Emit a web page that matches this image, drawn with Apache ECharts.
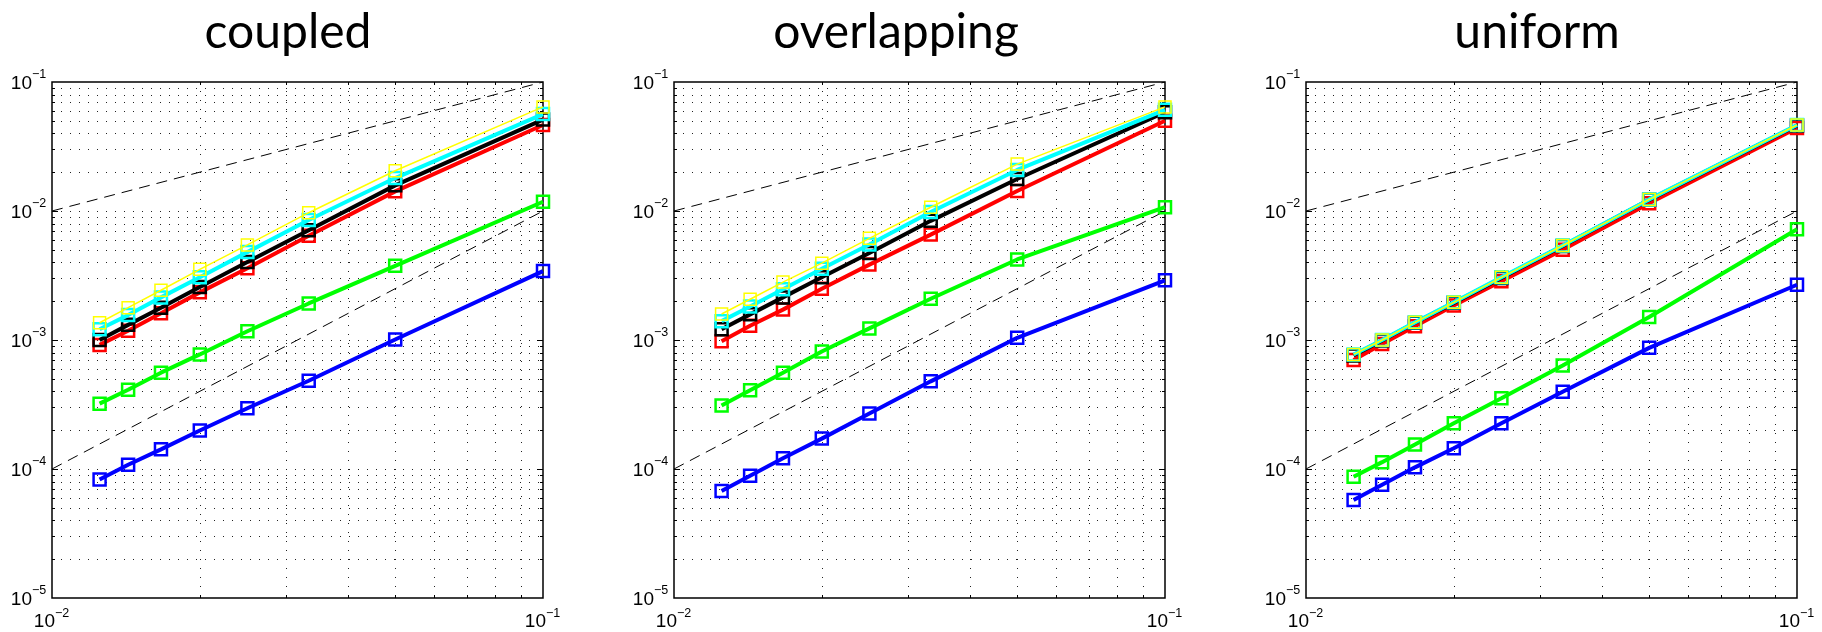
<!DOCTYPE html>
<html>
<head>
<meta charset="utf-8">
<script src="https://cdn.jsdelivr.net/npm/echarts@6/dist/echarts.min.js"></script>
<style>
html,body{margin:0;padding:0;background:#fff;}
#chart{width:1822px;height:632px;}
</style>
</head>
<body>
<div id="chart"></div>
<script>
// ---------------- data ----------------
const TITLES = ['coupled', 'overlapping', 'uniform'];
const H = [0.0125, 0.01429, 0.01667, 0.02, 0.025, 0.03333, 0.05, 0.1];

const coupledBlue   = [8.3e-5, 1.08e-4, 1.42e-4, 1.99e-4, 2.96e-4, 4.83e-4, 1.01e-3, 3.42e-3];
const coupledGreen  = [3.21e-4, 4.11e-4, 5.58e-4, 7.73e-4, 1.17e-3, 1.92e-3, 3.76e-3, 1.18e-2];
const coupledRed    = [9.16e-4, 1.18e-3, 1.61e-3, 2.34e-3, 3.60e-3, 6.43e-3, 1.42e-2, 4.64e-2];
const coupledBlack  = [1.0e-3, 1.31e-3, 1.78e-3, 2.58e-3, 4.02e-3, 7.10e-3, 1.58e-2, 5.11e-2];
const coupledCyan   = [1.21e-3, 1.56e-3, 2.14e-3, 3.06e-3, 4.80e-3, 8.51e-3, 1.80e-2, 5.64e-2];
const coupledYellow = [1.36e-3, 1.78e-3, 2.43e-3, 3.53e-3, 5.46e-3, 9.70e-3, 2.05e-2, 6.41e-2];

const overlapBlue   = [6.75e-5, 8.88e-5, 1.21e-4, 1.72e-4, 2.69e-4, 4.78e-4, 1.04e-3, 2.90e-3];
const overlapGreen  = [3.10e-4, 4.08e-4, 5.58e-4, 8.15e-4, 1.23e-3, 2.09e-3, 4.21e-3, 1.07e-2];
const overlapRed    = [9.77e-4, 1.29e-3, 1.72e-3, 2.50e-3, 3.84e-3, 6.56e-3, 1.43e-2, 5.01e-2];
const overlapBlack  = [1.21e-3, 1.58e-3, 2.14e-3, 3.06e-3, 4.73e-3, 8.39e-3, 1.77e-2, 5.83e-2];
const overlapCyan   = [1.40e-3, 1.82e-3, 2.47e-3, 3.57e-3, 5.50e-3, 9.82e-3, 2.08e-2, 6.09e-2];
const overlapYellow = [1.59e-3, 2.07e-3, 2.81e-3, 3.94e-3, 6.14e-3, 1.07e-2, 2.31e-2, 6.41e-2];

const uniformBlue   = [5.74e-5, 7.55e-5, 1.03e-4, 1.45e-4, 2.26e-4, 3.97e-4, 8.69e-4, 2.68e-3];
const uniformGreen  = [8.71e-5, 1.13e-4, 1.55e-4, 2.26e-4, 3.53e-4, 6.35e-4, 1.51e-3, 7.23e-3];
const uniformRed    = [7.0e-4, 9.3e-4, 1.28e-3, 1.85e-3, 2.85e-3, 5.0e-3, 1.15e-2, 4.4e-2];
const uniformBlack  = [7.6e-4, 9.9e-4, 1.36e-3, 1.94e-3, 3.02e-3, 5.35e-3, 1.22e-2, 4.6e-2];
const uniformCyan   = [7.73e-4, 1.0e-3, 1.37e-3, 1.96e-3, 3.06e-3, 5.40e-3, 1.23e-2, 4.64e-2];
const uniformYellow = [7.73e-4, 1.0e-3, 1.37e-3, 1.96e-3, 3.06e-3, 5.40e-3, 1.23e-2, 4.64e-2];

// reference slopes (dashed)
const refSlope1 = [[0.01, 0.01], [0.1, 0.1]];
const refSlope2 = [[0.01, 1e-4], [0.1, 1e-2]];

// axis ranges / grid-line positions
const X_MIN = 0.01, X_MAX = 0.1;
const Y_MIN = 1e-5, Y_MAX = 1e-1;
const X_GRID = [0.02, 0.03, 0.04, 0.05, 0.06, 0.07, 0.08, 0.09];
const Y_GRID = [2e-5,3e-5,4e-5,5e-5,6e-5,7e-5,8e-5,9e-5,1e-4,
                2e-4,3e-4,4e-4,5e-4,6e-4,7e-4,8e-4,9e-4,1e-3,
                2e-3,3e-3,4e-3,5e-3,6e-3,7e-3,8e-3,9e-3,1e-2,
                2e-2,3e-2,4e-2,5e-2,6e-2,7e-2,8e-2,9e-2];
// tick label exponents
const X_TICK_EXP = [-2, -1];
const Y_TICK_EXP = [-5, -4, -3, -2, -1];

const PANELS = [
  [coupledBlue, coupledGreen, coupledRed, coupledBlack, coupledCyan, coupledYellow],
  [overlapBlue, overlapGreen, overlapRed, overlapBlack, overlapCyan, overlapYellow],
  [uniformBlue, uniformGreen, uniformRed, uniformBlack, uniformCyan, uniformYellow]
];
const COLORS = ['#0000ff', '#00ff00', '#ff0000', '#000000', '#00ffff', '#ffff00'];

// ---------------- layout ----------------
const GRID_LEFT = [52, 674, 1306];
const GRID_W = 491, GRID_TOP = 82, GRID_H = 516;
const TITLE_X = [288, 896, 1537];

function isDecade(v) {
  const e = Math.log10(v);
  return Math.abs(e - Math.round(e)) < 1e-6;
}

function vLine(params, api) {
  const x = api.value(0);
  const t = api.coord([x, Y_MAX]);
  const b = api.coord([x, Y_MIN]);
  const px = Math.round(t[0]) + 0.5;
  const tl = isDecade(x) ? 6 : 3;
  return {type: 'group', children: [
    {type: 'line', shape: {x1: px, y1: t[1], x2: px, y2: b[1]}, style: {stroke: '#222', lineWidth: 1, lineDash: [1, 8]}},
    {type: 'line', shape: {x1: px, y1: b[1], x2: px, y2: b[1] - tl}, style: {stroke: '#000', lineWidth: 1}},
    {type: 'line', shape: {x1: px, y1: t[1], x2: px, y2: t[1] + tl}, style: {stroke: '#000', lineWidth: 1}}
  ]};
}
function hLine(params, api) {
  const y = api.value(1);
  const l = api.coord([X_MIN, y]);
  const r = api.coord([X_MAX, y]);
  const py = Math.round(l[1]) + 0.5;
  const tl = isDecade(y) ? 6 : 3;
  return {type: 'group', children: [
    {type: 'line', shape: {x1: l[0], y1: py, x2: r[0], y2: py}, style: {stroke: '#222', lineWidth: 1, lineDash: [1, 8]}},
    {type: 'line', shape: {x1: l[0], y1: py, x2: l[0] + tl, y2: py}, style: {stroke: '#000', lineWidth: 1}},
    {type: 'line', shape: {x1: r[0], y1: py, x2: r[0] - tl, y2: py}, style: {stroke: '#000', lineWidth: 1}}
  ]};
}
// tick labels: "10" plus raised exponent, placed through the axis scale
const BASE_FONT = '19px "Liberation Sans", Arial, sans-serif';
const SUP_FONT = '12.5px "Liberation Sans", Arial, sans-serif';
function xLabel(params, api) {
  const e = api.value(2);
  const p = api.coord([Math.pow(10, e), Y_MIN]);
  return {type: 'group', x: p[0], y: p[1], children: [
    {type: 'text', x: 3, y: 24, style: {text: '10', font: BASE_FONT, fill: '#000', align: 'right', verticalAlign: 'middle'}},
    {type: 'text', x: 3, y: 15.5, style: {text: '\u2212' + (-e), font: SUP_FONT, fill: '#000', align: 'left', verticalAlign: 'middle'}}
  ]};
}
function yLabel(params, api) {
  const e = api.value(2);
  const p = api.coord([X_MIN, Math.pow(10, e)]);
  return {type: 'group', x: p[0], y: p[1], children: [
    {type: 'text', x: -20, y: 1.5, style: {text: '10', font: BASE_FONT, fill: '#000', align: 'right', verticalAlign: 'middle'}},
    {type: 'text', x: -20, y: -7, style: {text: '\u2212' + (-e), font: SUP_FONT, fill: '#000', align: 'left', verticalAlign: 'middle'}}
  ]};
}

const grids = [], xAxes = [], yAxes = [], series = [], graphics = [];
for (let g = 0; g < 3; g++) {
  grids.push({left: GRID_LEFT[g], top: GRID_TOP, width: GRID_W, height: GRID_H,
    show: true, borderColor: '#000', borderWidth: 1.5, backgroundColor: 'transparent', containLabel: false});
  xAxes.push({type: 'log', logBase: 10, gridIndex: g, min: X_MIN, max: X_MAX,
    axisLine: {show: false}, axisTick: {show: false}, splitLine: {show: false}, axisLabel: {show: false}});
  yAxes.push({type: 'log', logBase: 10, gridIndex: g, min: Y_MIN, max: Y_MAX,
    axisLine: {show: false}, axisTick: {show: false}, splitLine: {show: false}, axisLabel: {show: false}});

  series.push({type: 'custom', xAxisIndex: g, yAxisIndex: g, silent: true, z: 1,
    data: X_GRID.map(v => [v, 1e-3]), renderItem: vLine});
  series.push({type: 'custom', xAxisIndex: g, yAxisIndex: g, silent: true, z: 1,
    data: Y_GRID.map(v => [0.03, v]), renderItem: hLine});
  series.push({type: 'custom', xAxisIndex: g, yAxisIndex: g, silent: true, z: 20, clip: false,
    data: X_TICK_EXP.map(e => [0.03, 1e-3, e]), renderItem: xLabel});
  series.push({type: 'custom', xAxisIndex: g, yAxisIndex: g, silent: true, z: 20, clip: false,
    data: Y_TICK_EXP.map(e => [0.03, 1e-3, e]), renderItem: yLabel});

  [refSlope1, refSlope2].forEach(d => series.push({
    type: 'line', xAxisIndex: g, yAxisIndex: g, data: d, symbol: 'none', silent: true, z: 2,
    lineStyle: {color: '#000', width: 1, type: [11, 7]}
  }));

  PANELS[g].forEach((vals, k) => {
    const thin = k === 5;
    series.push({
      type: 'line', xAxisIndex: g, yAxisIndex: g, z: 3 + k,
      data: H.map((h, i) => [h, vals[i]]),
      symbol: 'rect', symbolSize: 12, showAllSymbol: true,
      lineStyle: {color: COLORS[k], width: thin ? 1.5 : 4},
      itemStyle: {color: 'rgba(0,0,0,0)', borderColor: COLORS[k], borderWidth: thin ? 1.5 : 2.5},
      emphasis: {disabled: true}
    });
  });

  graphics.push({type: 'text', x: TITLE_X[g], y: 33, z: 100,
    style: {text: TITLES[g], font: '48px Lato', fill: '#000',
      align: 'center', verticalAlign: 'middle', textAlign: 'center', textVerticalAlign: 'middle'}});
}

const chart = echarts.init(document.getElementById('chart'), null, {renderer: 'canvas'});
chart.setOption({
  animation: false,
  backgroundColor: '#fff',
  grid: grids, xAxis: xAxes, yAxis: yAxes, series: series, graphic: graphics
});
</script>
</body>
</html>
